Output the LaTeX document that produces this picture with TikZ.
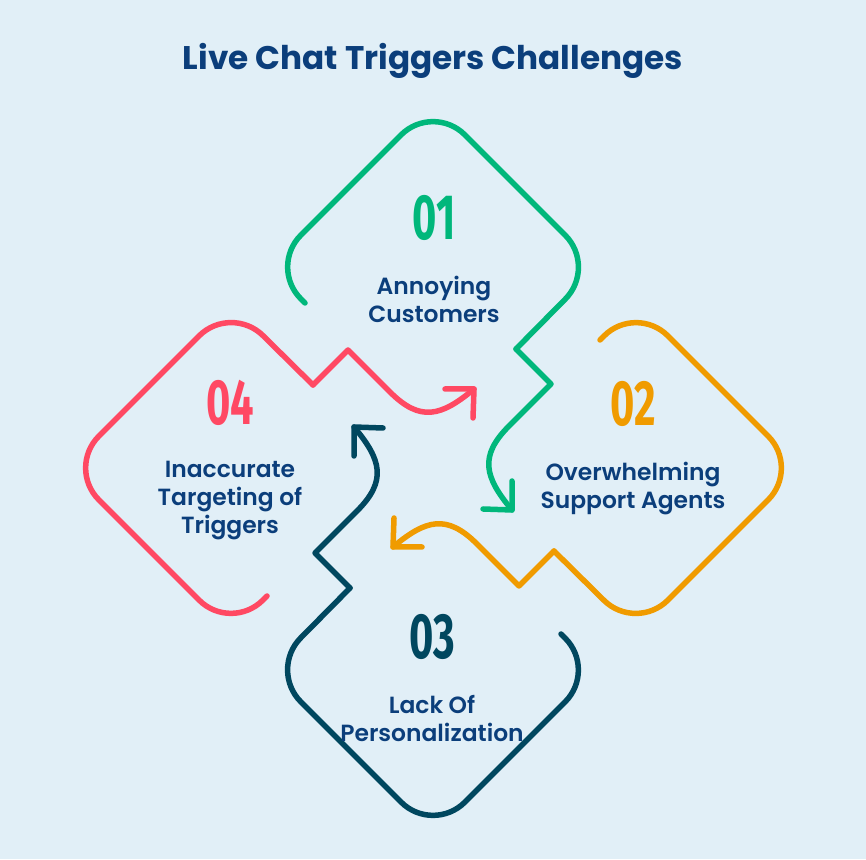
\documentclass[tikz,border=0pt]{standalone}
\usepackage{fontspec}
\setmainfont{Poppins}
\newfontfamily\labelfont{Poppins SemiBold}
\newfontfamily\numfont{Fira Sans}
\usepackage{xcolor}
\usepackage{graphicx}
\usetikzlibrary{positioning}

\definecolor{bgblue}{HTML}{E1EFF7}
\definecolor{navy}{HTML}{0B3E7B}
\definecolor{cgreen}{HTML}{00B77B}
\definecolor{corange}{HTML}{F09B00}
\definecolor{cdark}{HTML}{00475F}
\definecolor{cred}{HTML}{FF4963}

\newcommand{\digits}[1]{\scalebox{0.65}[1]{#1}}

\begin{document}
\begin{tikzpicture}[x=1pt, y=1pt,
  node distance=35pt,
  outline/.style={line width=5.5pt, line cap=round, line join=round},
  num/.style={inner sep=0pt, font=\numfont\bfseries\fontsize{64}{64}\selectfont},
  lbl/.style={inner sep=0pt, align=center, text=navy,
    font=\labelfont\fontsize{23.4}{28}\selectfont},
  title/.style={anchor=base, text=navy, font=\bfseries\fontsize{32.7}{36}\selectfont},
  challenge/.pic={
    \draw[outline, rounded corners=45pt] (-128,-36) -- (-164,0) -- (0,164)
      -- (164,0) -- (83,-82);
    \draw[outline] (83,-82) -- (118,-117) -- (76,-159)
      to[out=225, in=130, looseness=1.3] (79,-243);
    \draw[outline] (79,-214) -- (79,-243) -- (50,-242);
  }
]
\fill[bgblue] (0,0) rectangle (866,859);

\coordinate (c1) at (433,592);
\coordinate (c2) at (636,391);
\coordinate (c3) at (433,189);
\coordinate (c4) at (231,391);

\pic[cgreen] at (c1) {challenge};
\pic[corange, rotate=-90] at (c2) {challenge};
\pic[cdark, rotate=180] at (c3) {challenge};
\pic[cred, rotate=90] at (c4) {challenge};

\node[title] (head) at (433,789) {Live Chat Triggers Challenges};

\node[num, text=cgreen] (num1) at (434,641) {\digits{01}};
\node[lbl, below=of num1] (txt1) {Annoying\\Customers};

\node[num, text=corange] (num2) at (633,455) {\digits{02}};
\node[lbl, below=of num2] (txt2) {Overwhelming\\Support Agents};

\node[num, text=cdark] (num3) at (432,222) {\digits{03}};
\node[lbl, below=of num3] (txt3) {Lack Of\\Personalization};

\node[num, text=cred] (num4) at (230,456) {\digits{04}};
\node[lbl, below=of num4] (txt4) {Inaccurate\\Targeting of\\Triggers};
\end{tikzpicture}
\end{document}
